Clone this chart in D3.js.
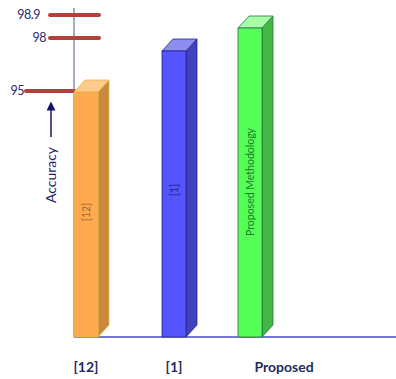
<!DOCTYPE html>
<html>
<head>
<meta charset="utf-8">
<script src="https://cdn.jsdelivr.net/npm/d3@7"></script>
<style>
  body { margin: 0; background: #fff; }
  svg { display: block; font-family: Lato, "Open Sans", sans-serif; }
</style>
</head>
<body>
<div id="chart"></div>
<script>
// data
var categories = ["[12]", "[1]", "Proposed"];
var barLabels = ["[12]", "[1]", "Proposed Methodology"];
var values = [95, 98, 98.9];
var tickValues = [95, 98, 98.9];
var tickLabels = ["95", "98", "98.9"];

var frontColors = ["#FFAA4F", "#5555FF", "#55FF55"];
var sideColors = ["#C98A3E", "#4141C0", "#42B842"];
var topColors = ["#FFCB8A", "#8D8DF0", "#A6FFA6"];
var edgeColors = ["#E8B24A", "#25258A", "#2B6B55"];
var textColors = ["#9A6A30", "#22227A", "#1E7A2A"];

var width = 396, height = 379;
var baseY = 337, axisX = 74;
var barW = 24, dx = 11, dy = 12;

var svg = d3.select("#chart")
        .append("svg")
        .attr("width", width)
        .attr("height", height);

// value scale for bar tops (not linear in the picture, so polylinear)
var y = d3.scaleLinear()
        .domain([0, 95, 98, 98.9])
        .range([baseY, 92, 51, 28]);

// ticks sit at their own positions
var yTick = d3.scaleLinear()
        .domain([95, 98, 98.9])
        .range([91, 38, 15]);

var x = d3.scaleOrdinal()
        .domain(categories)
        .range([74, 162, 238]);

var xLabel = d3.scaleOrdinal()
        .domain(categories)
        .range([86, 174, 284]);

// vertical axis line
svg.append("line")
        .attr("x1", axisX).attr("x2", axisX)
        .attr("y1", 8).attr("y2", baseY)
        .attr("stroke", "#6E6E9E")
        .attr("stroke-width", 1.2);

// baseline
svg.append("line")
        .attr("x1", axisX).attr("x2", width)
        .attr("y1", baseY).attr("y2", baseY)
        .attr("stroke", "#4A4AC8")
        .attr("stroke-width", 1.5);

// red tick marks
svg.selectAll(".tick")
        .data(tickValues)
        .enter()
        .append("line")
        .attr("class", "tick")
        .attr("x1", function (d, i) { return i === 0 ? 26 : 50; })
        .attr("x2", function (d, i) { return i === 0 ? axisX : 99; })
        .attr("y1", function (d) { return yTick(d); })
        .attr("y2", function (d) { return yTick(d); })
        .attr("stroke", "#B2413B")
        .attr("stroke-width", 4)
        .attr("stroke-linecap", "round");

svg.selectAll(".tickLabel")
        .data(tickValues)
        .enter()
        .append("text")
        .attr("class", "tickLabel")
        .attr("x", function (d, i) { return i === 0 ? 24 : (i === 1 ? 46 : 40); })
        .attr("y", function (d) { return yTick(d); })
        .attr("dy", "0.35em")
        .attr("text-anchor", "end")
        .attr("font-size", 12.5)
        .attr("letter-spacing", -0.5)
        .attr("fill", "#2B2B6E")
        .text(function (d, i) { return tickLabels[i]; });

// arrow + axis title
svg.append("defs").append("marker")
        .attr("id", "arrow")
        .attr("viewBox", "0 0 10 10")
        .attr("refX", 5).attr("refY", 5)
        .attr("markerWidth", 6).attr("markerHeight", 6)
        .attr("orient", "auto")
        .append("path")
        .attr("d", "M0,0 L10,5 L0,10 z")
        .attr("fill", "#14146A");

svg.append("line")
        .attr("x1", 51).attr("x2", 51)
        .attr("y1", 137).attr("y2", 106)
        .attr("stroke", "#14146A")
        .attr("stroke-width", 1.5)
        .attr("marker-end", "url(#arrow)");

svg.append("text")
        .attr("transform", "translate(56,175) rotate(-90)")
        .attr("text-anchor", "middle")
        .attr("font-size", 14)
        .attr("fill", "#1C1C6E")
        .text("Accuracy");

// 3d bars
var bars = svg.selectAll(".bar")
        .data(values)
        .enter()
        .append("g")
        .attr("class", "bar");

// side face
bars.append("path")
        .attr("d", function (d, i) {
            var x1 = x(categories[i]) + barW, t = y(d);
            return "M" + x1 + "," + t + "L" + (x1 + dx) + "," + (t - dy) +
                    "L" + (x1 + dx) + "," + (baseY - dy) + "L" + x1 + "," + baseY + "Z";
        })
        .attr("fill", function (d, i) { return sideColors[i]; })
        .attr("stroke", function (d, i) { return edgeColors[i]; })
        .attr("stroke-width", 0.8);

// top face
bars.append("path")
        .attr("d", function (d, i) {
            var x0 = x(categories[i]), t = y(d);
            return "M" + x0 + "," + t + "L" + (x0 + dx) + "," + (t - dy) +
                    "L" + (x0 + barW + dx) + "," + (t - dy) + "L" + (x0 + barW) + "," + t + "Z";
        })
        .attr("fill", function (d, i) { return topColors[i]; })
        .attr("stroke", function (d, i) { return edgeColors[i]; })
        .attr("stroke-width", 0.8);

// front face
bars.append("rect")
        .attr("x", function (d, i) { return x(categories[i]); })
        .attr("y", function (d) { return y(d); })
        .attr("width", barW)
        .attr("height", function (d) { return baseY - y(d); })
        .attr("fill", function (d, i) { return frontColors[i]; })
        .attr("stroke", function (d, i) { return edgeColors[i]; })
        .attr("stroke-width", 0.8);

// text inside the bars
bars.append("text")
        .attr("transform", function (d, i) {
            var cy = i === 0 ? 212 : (i === 1 ? 190 : 182);
            return "translate(" + (x(categories[i]) + barW / 2) + "," + cy + ") rotate(-90)";
        })
        .attr("text-anchor", "middle")
        .attr("dy", "0.35em")
        .attr("font-size", 10.5)
        .attr("fill", function (d, i) { return textColors[i]; })
        .text(function (d, i) { return barLabels[i]; });

// category labels
svg.selectAll(".cat")
        .data(categories)
        .enter()
        .append("text")
        .attr("class", "cat")
        .attr("x", function (d) { return xLabel(d); })
        .attr("y", 372)
        .attr("text-anchor", "middle")
        .attr("font-size", 14)
        .attr("font-weight", "bold")
        .attr("fill", "#1F2A5E")
        .text(function (d) { return d; });
</script>
</body>
</html>
